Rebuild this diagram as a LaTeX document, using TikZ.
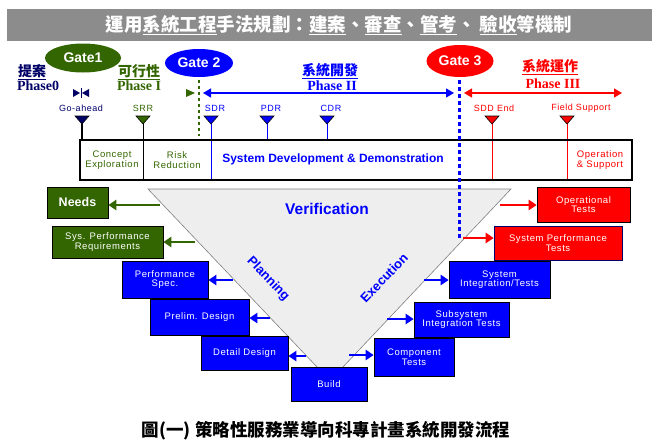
\documentclass[tikz,border=0pt]{standalone}
\usepackage{fontspec}
\setmainfont{Liberation Sans}
\newfontfamily\wide{Liberation Sans}[LetterSpace=6]
\newfontfamily\serifb{Liberation Serif}
\newfontfamily\cjk{Noto Sans CJK TC}
\usetikzlibrary{arrows.meta,shapes.geometric}
\definecolor{dgreen}{RGB}{51,102,0}
\definecolor{navy}{RGB}{0,0,102}
\definecolor{vgray}{RGB}{238,238,238}
\definecolor{tgray}{RGB}{140,140,140}
\newcommand{\fs}[1]{\fontsize{#1}{#1}\selectfont}
\begin{document}
\begin{tikzpicture}[x=1pt,y=-1pt,
  gate/.style={ellipse, text=white, font=\fs{14}\bfseries, inner sep=0pt},
  phz/.style={align=center, inner sep=0pt},
  ms/.style={font=\fs{9}\wide, inner sep=0pt},
  mtri/.style={draw=black, line width=0.6pt},
  bx/.style={draw=black, line width=0.6pt, text=white, align=center, font=\fs{9.5}\wide, inner sep=1pt},
  gbx/.style={bx, fill=dgreen},
  rbx/.style={bx, fill=red},
  bbx/.style={bx, fill=blue},
  harr/.style={line width=2pt, -{Triangle[length=8pt,width=10pt]}},
  parr/.style={line width=1.3pt, {Triangle[length=8pt,width=9pt]}-{Triangle[length=8pt,width=9pt]}}
]
\useasboundingbox (0,0) rectangle (652,439);
% title bar
\fill[tgray] (7,9) rectangle (652,41);
\node[text=white, font=\fs{18.5}\bfseries\cjk, inner sep=0pt] (title) at (339,25)
  {運用\underline{系統工程}手法規劃：\underline{建案}、\underline{審查}、\underline{管考}、 \underline{驗收}等機制};
% gates
\node[gate, fill=dgreen, minimum width=76pt, minimum height=29pt] (g1) at (83,58) {Gate1};
\node[gate, fill=blue, minimum width=68pt, minimum height=28pt] (g2) at (199,63) {Gate 2};
\node[gate, fill=red, minimum width=67pt, minimum height=32pt] (g3) at (460,61) {Gate 3};
% phase labels
\node[phz, text=navy, font=\fs{14}\cjk\bfseries] (p0a) at (32,72) {\underline{提案}};
\node[phz, text=navy, font=\fs{14}\serifb\bfseries] (p0b) at (38,86) {Phase0};
\node[phz, text=dgreen, font=\fs{14}\cjk\bfseries] (p1a) at (139,72) {\underline{可行性}};
\node[phz, text=dgreen, font=\fs{14}\serifb\bfseries] (p1b) at (139,86) {Phase I};
\node[phz, text=blue, font=\fs{14}\cjk\bfseries] (p2a) at (330,71) {\underline{系統開發}};
\node[phz, text=blue, font=\fs{14}\serifb\bfseries] (p2b) at (332,86) {Phase II};
\node[phz, text=red, font=\fs{14}\cjk\bfseries] (p3a) at (550,67) {\underline{系統運作}};
\node[phz, text=red, font=\fs{14}\serifb\bfseries] (p3b) at (553,84) {Phase III};
% phase arrows
\fill[navy] (73,89) -- (80,93) -- (73,97) -- cycle;
\fill[navy] (89,89) -- (82,93) -- (89,97) -- cycle;
\draw[navy, line width=1pt] (81,88) -- (81,98);
\fill[dgreen] (186,89) -- (195,93) -- (186,97) -- cycle;
\coordinate (b1) at (203,93); \coordinate (b2) at (454,93);
\draw[parr, blue] (b1) -- (b2);
\coordinate (r1) at (464,93); \coordinate (r2) at (622,93);
\draw[parr, red] (r1) -- (r2);
% gate dotted lines
\draw[dgreen, line width=2.5pt, dash pattern=on 3pt off 3pt] (199,80) -- (199,136);
% milestones
\node[ms, text=navy] (m0) at (81,108) {Go-ahead};
\node[ms, text=dgreen] (m1) at (143,108) {SRR};
\node[ms, text=blue] (m2) at (215,108) {SDR};
\node[ms, text=blue] (m3) at (271,108) {PDR};
\node[ms, text=blue] (m4) at (331,108) {CDR};
\node[ms, text=red] (m5) at (494,108) {SDD End};
\node[ms, text=red] (m6) at (581,108) {Field Support};
% milestone triangles and lines
\draw[black, line width=1.8pt] (82,120) -- (82,140);
\fill[navy, mtri] (75,116) -- (89,116) -- (82,124) -- cycle;
\draw[black, line width=0.8pt] (143,120) -- (143,179);
\fill[dgreen, mtri] (136,116) -- (150,116) -- (143,124) -- cycle;
\draw[blue, line width=0.8pt] (211,120) -- (211,179);
\fill[blue, mtri] (204,116) -- (218,116) -- (211,124) -- cycle;
\draw[blue, line width=0.8pt] (267,120) -- (267,140);
\fill[blue, mtri] (260,116) -- (274,116) -- (267,124) -- cycle;
\draw[blue, line width=0.8pt] (327,120) -- (327,140);
\fill[blue, mtri] (320,116) -- (334,116) -- (327,124) -- cycle;
\draw[red, line width=0.8pt] (492,120) -- (492,179);
\fill[red, mtri] (485,116) -- (499,116) -- (492,124) -- cycle;
\draw[red, line width=0.8pt] (567,120) -- (567,179);
\fill[red, mtri] (560,116) -- (574,116) -- (567,124) -- cycle;
% table box
\draw[black, line width=1.6pt] (80,140) rectangle (632,180);
\node[ms, text=dgreen, align=center, font=\fs{9.5}\wide] (ce) at (112,160) {Concept\\[1pt]Exploration};
\node[ms, text=dgreen, align=center, font=\fs{9.5}\wide] (rr) at (177,160) {Risk\\[1pt]Reduction};
\node[ms, text=blue, font=\fs{12}\bfseries] (sdd) at (333,159) {System Development \& Demonstration};
\node[ms, text=red, align=center, font=\fs{9.5}\wide] (os) at (600,160) {Operation\\[1pt]\& Support};
% V funnel
\draw[gray, fill=vgray, line width=0.6pt] (148,189) -- (511,189) -- (342,368) -- (318,368) -- cycle;
\draw[blue, line width=3pt, dash pattern=on 4pt off 3pt] (459,80) -- (459,238);
\node[text=blue, font=\fs{15.5}\bfseries, inner sep=0pt] (ver) at (327,209) {Verification};
\node[text=blue, font=\fs{13}\bfseries, inner sep=0pt, rotate=-46] (plan) at (268,279) {Planning};
\node[text=blue, font=\fs{13}\bfseries, inner sep=0pt, rotate=46] (exe) at (384,278) {Execution};
% left boxes
\node[gbx, minimum width=61pt, minimum height=31pt, font=\fs{12.5}\bfseries] (needs) at (77.5,202.5) {Needs};
\node[gbx, minimum width=111pt, minimum height=32pt] (spr) at (107.5,242) {Sys. Performance\\Requirements};
\node[bbx, minimum width=86pt, minimum height=37pt] (ps) at (165,279.5) {Performance\\Spec.};
\node[bbx, minimum width=99pt, minimum height=36pt] (pd) at (199.5,317) {Prelim. Design};
\node[bbx, minimum width=87pt, minimum height=34pt] (dd) at (244.5,353) {Detail Design};
\node[bbx, minimum width=76pt, minimum height=34pt] (build) at (329,384) {Build};
% right boxes
\node[rbx, minimum width=93pt, minimum height=35pt] (ot) at (583.5,204.5) {Operational\\Tests};
\node[rbx, draw=navy, minimum width=128pt, minimum height=34pt] (spt) at (558,243) {System Performance\\Tests};
\node[bbx, minimum width=101pt, minimum height=37pt] (sit) at (499.5,279.5) {System\\Integration/Tests};
\node[bbx, minimum width=95pt, minimum height=35pt] (ssit) at (461.5,319.5) {Subsystem\\Integration Tests};
\node[bbx, minimum width=80pt, minimum height=38pt] (ct) at (414,357) {Component\\Tests};
% arrows
\coordinate (an) at (160,205); \draw[harr, dgreen] (an) -- (an -| needs.east);
\coordinate (asp) at (195,242); \draw[harr, dgreen] (asp) -- (asp -| spr.east);
\coordinate (aps) at (233,280); \draw[harr, blue] (aps) -- (aps -| ps.east);
\coordinate (apd) at (270,318); \draw[harr, blue] (apd) -- (apd -| pd.east);
\coordinate (add) at (306,356); \draw[harr, blue] (add) -- (add -| dd.east);
\coordinate (aot) at (500,205); \draw[harr, red] (aot) -- (aot -| ot.west);
\coordinate (aspt) at (463,238); \draw[harr, red] (aspt) -- (aspt -| spt.west);
\coordinate (asit) at (424,280); \draw[harr, blue] (asit) -- (asit -| sit.west);
\coordinate (assit) at (387,319); \draw[harr, blue] (assit) -- (assit -| ssit.west);
\coordinate (act) at (349,355); \draw[harr, blue] (act) -- (act -| ct.west);
% caption
\node[font=\fs{17.5}\bfseries\cjk, inner sep=0pt] (cap) at (326,431) {圖(一)\ 策略性服務業導向科專計畫系統開發流程};
\end{tikzpicture}
\end{document}
